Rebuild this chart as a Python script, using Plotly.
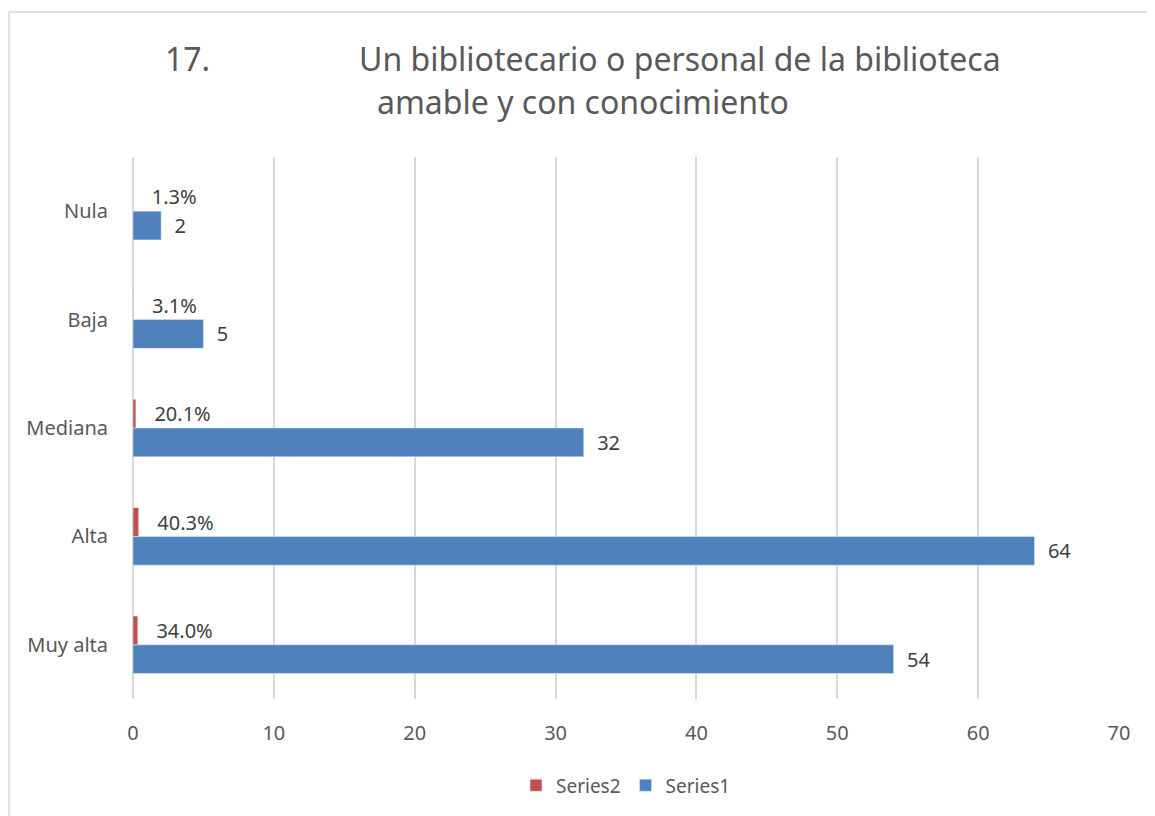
import plotly.graph_objects as go

categories = ["Muy alta", "Alta", "Mediana", "Baja", "Nula"]
series1 = [54, 64, 32, 5, 2]
series2 = [0.340, 0.403, 0.201, 0.031, 0.013]
x_ticks = [0, 10, 20, 30, 40, 50, 60, 70]

# page body adds an 8px offset; figure sized to fit the window
OFF = 8
W, H = 1155 - OFF, 816 - OFF
L = 133 - OFF
R = W - (1119 - OFF)
T = 157 - OFF
B = H - (703 - OFF)
pw, ph = W - L - R, H - T - B


def px(x):
    return (x - OFF - L) / pw


def py(y):
    return (H - B - (y - OFF)) / ph


FONT = "Noto Sans"
fig = go.Figure()
fig.add_trace(go.Bar(
    y=categories, x=series1, orientation="h", name="Series1",
    marker_color="#4f81bd", texttemplate="  %{x}",
    textposition="outside", cliponaxis=False,
    textfont=dict(size=20, color="#404040", family=FONT), legendrank=2,
))
fig.add_trace(go.Bar(
    y=categories, x=series2, orientation="h", name="Series2",
    marker_color="#c0504d", texttemplate="   %{x:.1%}",
    textposition="outside", cliponaxis=False,
    textfont=dict(size=20, color="#404040", family=FONT), legendrank=1,
))

fig.update_layout(
    width=W, height=H,
    margin=dict(l=L, r=R, t=T, b=B),
    paper_bgcolor="white", plot_bgcolor="white",
    barmode="group", bargap=0.47, bargroupgap=0,
    font=dict(family=FONT, color="#595959", size=20),
    showlegend=True,
    legend=dict(orientation="h", x=0.5, xanchor="center", y=py(790), yanchor="middle",
                font=dict(size=19, color="#595959"), traceorder="normal"),
    xaxis=dict(range=[0, 70], tickvals=x_ticks, showgrid=True, gridcolor="#d9d9d9",
               gridwidth=1.5, zeroline=True, zerolinecolor="#d9d9d9", zerolinewidth=1.5,
               showline=False, ticks="", ticklabelstandoff=20,
               tickfont=dict(size=20, color="#595959")),
    yaxis=dict(categoryorder="array", categoryarray=categories, showgrid=False,
               zeroline=False, showline=False, ticks="", ticklabelstandoff=24,
               tickfont=dict(size=20, color="#595959")),
)

title_font = dict(family=FONT, size=32, color="#595959")
fig.add_annotation(text="17.", xref="paper", yref="paper", x=px(163), y=py(58),
                   xanchor="left", yanchor="middle", showarrow=False, font=title_font)
fig.add_annotation(text="Un bibliotecario o personal de la biblioteca", xref="paper", yref="paper",
                   x=px(680), y=py(58), xanchor="center", yanchor="middle", showarrow=False, font=title_font)
fig.add_annotation(text="amable y con conocimiento", xref="paper", yref="paper",
                   x=px(583), y=py(101), xanchor="center", yanchor="middle", showarrow=False, font=title_font)

fig.add_shape(type="rect", xref="paper", yref="paper", x0=px(9), x1=px(1170), y0=py(11), y1=py(830),
              line=dict(color="#d9d9d9", width=1.5), fillcolor="rgba(0,0,0,0)", layer="below")

fig.write_html("out.html")
